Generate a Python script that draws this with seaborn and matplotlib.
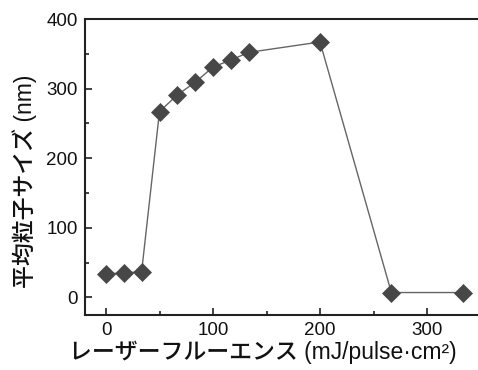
import matplotlib
matplotlib.use("Agg")
import matplotlib.pyplot as plt
import seaborn as sns
import pandas as pd
from matplotlib.ticker import MultipleLocator

fluence = [0, 16.7, 33.3, 50, 66.7, 83.3, 100, 116.7, 133.3, 200, 266.7, 333.3]
size_nm = [34, 35, 37, 267, 291, 309, 331, 341, 352, 367, 7, 7]

xlabel = "レーザーフルーエンス (mJ/pulse·cm²)"
ylabel = "平均粒子サイズ (nm)"

sns.set_style("white")
plt.rcParams['font.family'] = ['Liberation Sans', 'Noto Sans CJK JP', 'DejaVu Sans']

df = pd.DataFrame({"fluence": fluence, "size": size_nm})

fig = plt.figure(figsize=(4.78, 3.70), dpi=100)
W, H = 478, 370
x0, x1 = -20, 350
y0, y1 = -25, 400
pxx = 1.07
pxy = 0.696
left = 106 + x0 * pxx
width = (x1 - x0) * pxx
top = 19
height = (y1 - y0) * pxy
ax = fig.add_axes([left / W, (H - top - height) / H, width / W, height / H])

sns.lineplot(data=df, x="fluence", y="size", ax=ax, color="#666666", linewidth=1.0,
             marker="D", markersize=9.5, markerfacecolor="#474747", markeredgecolor="#474747",
             markeredgewidth=0.5, sort=False)

ax.set_xlim(x0, x1)
ax.set_ylim(y0, y1)
ax.xaxis.set_major_locator(MultipleLocator(100))
ax.xaxis.set_minor_locator(MultipleLocator(50))
ax.yaxis.set_major_locator(MultipleLocator(100))
ax.yaxis.set_minor_locator(MultipleLocator(50))
ax.tick_params(which="both", direction="in", color="#222222", width=1.2, labelsize=13.5,
               labelcolor="#111111")
ax.tick_params(axis="x", which="both", pad=5)
ax.tick_params(axis="y", which="both", pad=5)
ax.tick_params(which="major", length=5)
ax.tick_params(which="minor", length=3)
ax.tick_params(axis="x", which="both", top=False, bottom=True)
ax.tick_params(axis="y", which="both", left=True, right=False)
for side in ["left", "bottom", "top"]:
    ax.spines[side].set_linewidth(1.5)
    ax.spines[side].set_color("#222222")
ax.spines["right"].set_visible(False)

ax.set_xlabel(xlabel, fontsize=16.5, color="#111111", fontweight="medium")
ax.set_ylabel(ylabel, fontsize=16.5, color="#111111", fontweight="medium")
ax.xaxis.set_label_coords(0.45, -0.088)
ax.yaxis.set_label_coords(-0.12, 0.45)

fig.savefig("out.png", dpi=100)
